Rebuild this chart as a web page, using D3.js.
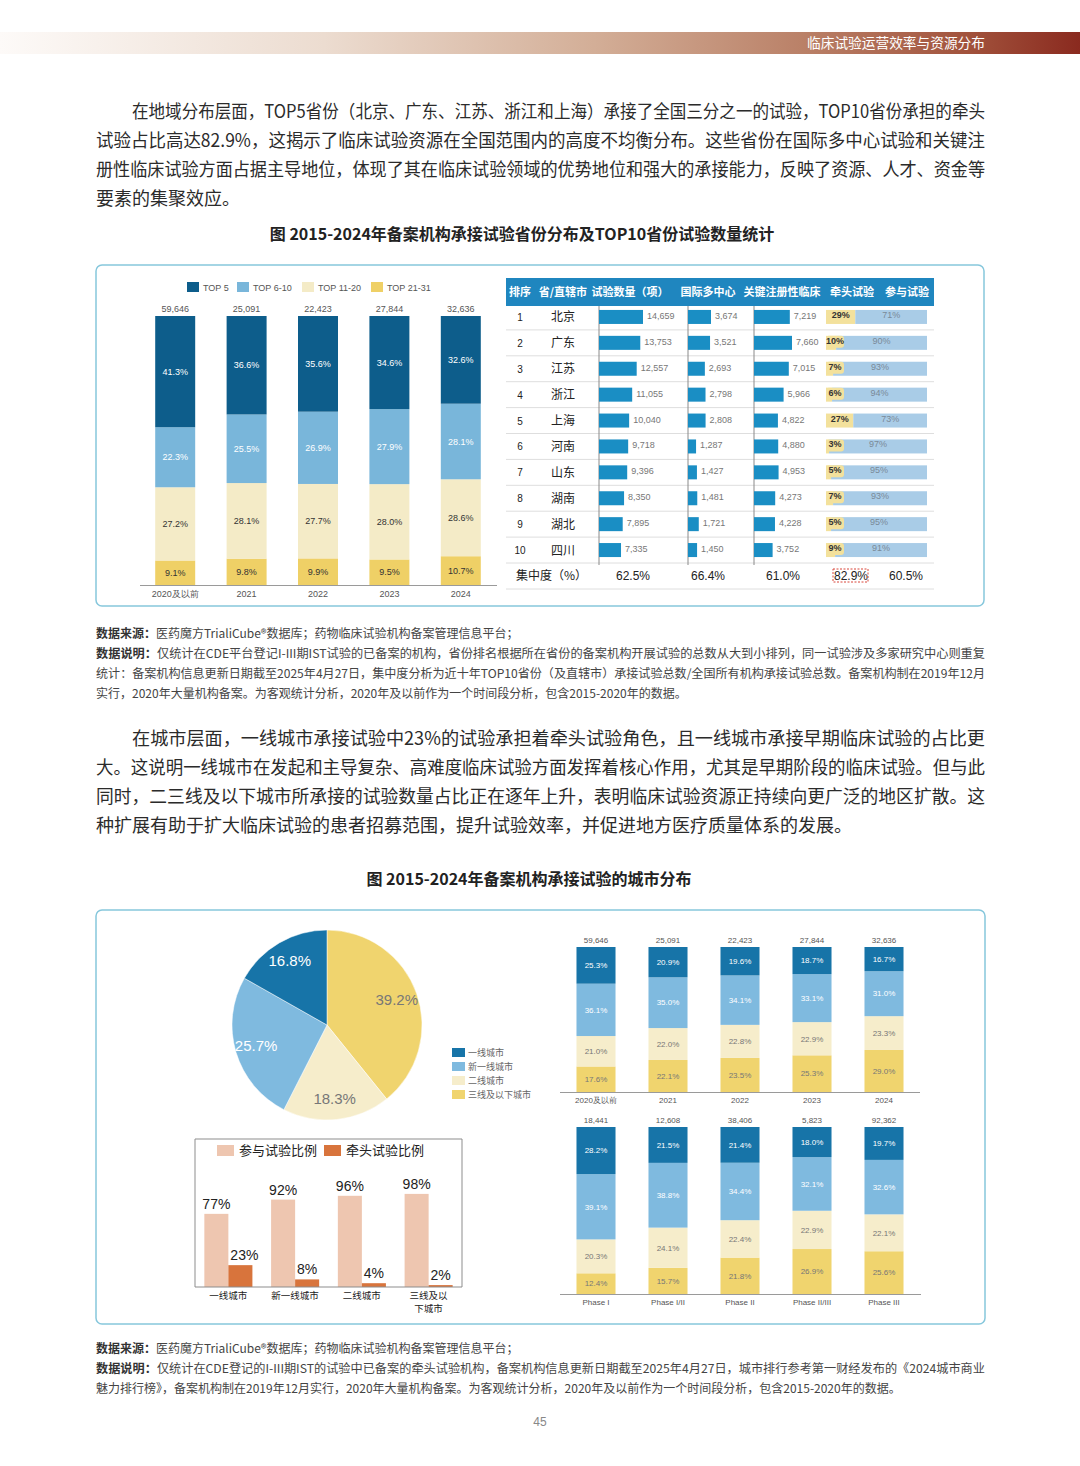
<!DOCTYPE html>
<html lang="zh">
<head>
<meta charset="UTF-8" />
<title>临床试验运营效率与资源分布</title>
<script src="https://d3js.org/d3.v7.min.js"></script>
<style>
  body { margin: 0; background: #fff; }
  svg { display: block; font-family: "Noto Sans CJK SC", "Noto Sans", sans-serif; }
  .num { font-family: "Liberation Sans", Arial, sans-serif; }
</style>
</head>
<body>
<svg width="1080" height="1466"></svg>
<script>
// ---------- data ----------
var years = ["2020及以前", "2021", "2022", "2023", "2024"];
var yearTotals = ["59,646", "25,091", "22,423", "27,844", "32,636"];

// province tiers (top -> bottom in bar)
var provKeys = ["TOP 5", "TOP 6-10", "TOP 11-20", "TOP 21-31"];
var provTop5 = [41.3, 36.6, 35.6, 34.6, 32.6];
var provTop6_10 = [22.3, 25.5, 26.9, 27.9, 28.1];
var provTop11_20 = [27.2, 28.1, 27.7, 28.0, 28.6];
var provTop21_31 = [9.1, 9.8, 9.9, 9.5, 10.7];

// top 10 table
var provinces = ["北京", "广东", "江苏", "浙江", "上海", "河南", "山东", "湖南", "湖北", "四川"];
var trialCount = [14659, 13753, 12557, 11055, 10040, 9718, 9396, 8350, 7895, 7335];
var intlCount = [3674, 3521, 2693, 2798, 2808, 1287, 1427, 1481, 1721, 1450];
var keyCount = [7219, 7660, 7015, 5966, 4822, 4880, 4953, 4273, 4228, 3752];
var leadPct = [29, 10, 7, 6, 27, 3, 5, 7, 5, 9];
var joinPct = [71, 90, 93, 94, 73, 97, 95, 93, 95, 91];
var concentration = ["62.5%", "66.4%", "61.0%", "82.9%", "60.5%"];
var tableHeads = ["排序", "省/直辖市", "试验数量（项）", "国际多中心", "关键注册性临床", "牵头试验", "参与试验"];

// city tiers
var cityKeys = ["一线城市", "新一线城市", "二线城市", "三线及以下城市"];
var cityPie = [16.8, 25.7, 18.3, 39.2];

var cityYear1 = [25.3, 20.9, 19.6, 18.7, 16.7];
var cityYear2 = [36.1, 35.0, 34.1, 33.1, 31.0];
var cityYear3 = [21.0, 22.0, 22.8, 22.9, 23.3];
var cityYear4 = [17.6, 22.1, 23.5, 25.3, 29.0];

var phases = ["Phase I", "Phase I/II", "Phase II", "Phase II/III", "Phase III"];
var phaseTotals = ["18,441", "12,608", "38,406", "5,823", "92,362"];
var cityPhase1 = [28.2, 21.5, 21.4, 18.0, 19.7];
var cityPhase2 = [39.1, 38.8, 34.4, 32.1, 32.6];
var cityPhase3 = [20.3, 24.1, 22.4, 22.9, 22.1];
var cityPhase4 = [12.4, 15.7, 21.8, 26.9, 25.6];

var roleKeys = ["参与试验比例", "牵头试验比例"];
var cityShort = ["一线城市", "新一线城市", "二线城市", "三线及以\n下城市"];
var joinByCity = [77, 92, 96, 98];
var leadByCity = [23, 8, 4, 2];

// ---------- text ----------
var para1 = [
  "在地域分布层面，TOP5省份（北京、广东、江苏、浙江和上海）承接了全国三分之一的试验，TOP10省份承担的牵头",
  "试验占比高达82.9%，这揭示了临床试验资源在全国范围内的高度不均衡分布。这些省份在国际多中心试验和关键注",
  "册性临床试验方面占据主导地位，体现了其在临床试验领域的优势地位和强大的承接能力，反映了资源、人才、资金等",
  "要素的集聚效应。"
];
var para2 = [
  "在城市层面，一线城市承接试验中23%的试验承担着牵头试验角色，且一线城市承接早期临床试验的占比更",
  "大。这说明一线城市在发起和主导复杂、高难度临床试验方面发挥着核心作用，尤其是早期阶段的临床试验。但与此",
  "同时，二三线及以下城市所承接的试验数量占比正在逐年上升，表明临床试验资源正持续向更广泛的地区扩散。这",
  "种扩展有助于扩大临床试验的患者招募范围，提升试验效率，并促进地方医疗质量体系的发展。"
];
var notes1 = [
  ["数据来源：", "医药魔方TrialiCube®数据库；药物临床试验机构备案管理信息平台；"],
  ["数据说明：", "仅统计在CDE平台登记I-III期IST试验的已备案的机构，省份排名根据所在省份的备案机构开展试验的总数从大到小排列，同一试验涉及多家研究中心则重复"],
  ["", "统计：备案机构信息更新日期截至2025年4月27日，集中度分析为近十年TOP10省份（及直辖市）承接试验总数/全国所有机构承接试验总数。备案机构制在2019年12月"],
  ["", "实行，2020年大量机构备案。为客观统计分析，2020年及以前作为一个时间段分析，包含2015-2020年的数据。"]
];
var notes2 = [
  ["数据来源：", "医药魔方TrialiCube®数据库；药物临床试验机构备案管理信息平台；"],
  ["数据说明：", "仅统计在CDE登记的I-III期IST的试验中已备案的牵头试验机构，备案机构信息更新日期截至2025年4月27日，城市排行参考第一财经发布的《2024城市商业"],
  ["", "魅力排行榜》，备案机构制在2019年12月实行，2020年大量机构备案。为客观统计分析，2020年及以前作为一个时间段分析，包含2015-2020年的数据。"]
];

var svg = d3.select("svg");
svg.append("rect").attr("width", 1080).attr("height", 1466).attr("fill", "#fff");

// ---------- header band ----------
var defs = svg.append("defs");
var grad = defs.append("linearGradient").attr("id", "hdr");
[["0%", "#fdfaf8"], ["30%", "#ecdcd0"], ["55%", "#d3ae97"], ["75%", "#b97f66"], ["90%", "#a1513b"], ["100%", "#8a2a1f"]]
  .forEach(function (s) { grad.append("stop").attr("offset", s[0]).attr("stop-color", s[1]); });
svg.append("rect").attr("x", 0).attr("y", 32).attr("width", 1080).attr("height", 22).attr("fill", "url(#hdr)");
svg.append("text").attr("x", 985).attr("y", 48).attr("text-anchor", "end")
  .attr("font-size", 13.7).attr("fill", "#fff").text("临床试验运营效率与资源分布");

// ---------- paragraphs ----------
function paragraph(lines, y0) {
  lines.forEach(function (t, i) {
    var indent = i === 0 ? 36 : 0;
    var last = i === lines.length - 1;
    var tx = svg.append("text").attr("x", 96 + indent).attr("y", y0 + i * 29)
      .attr("font-size", 18).attr("fill", "#2b2b2b").text(t);
    if (!last) tx.attr("textLength", 889 - indent).attr("lengthAdjust", "spacingAndGlyphs");
  });
}
paragraph(para1, 118);
paragraph(para2, 745);

function notes(lines, y0) {
  lines.forEach(function (l, i) {
    var tx = svg.append("text").attr("x", 96).attr("y", y0 + i * 20)
      .attr("font-size", 12).attr("fill", "#444");
    tx.append("tspan").attr("font-weight", "bold").attr("fill", "#333").text(l[0]);
    tx.append("tspan").text(l[1]);
    if (i > 0 && i < lines.length - 1) tx.attr("textLength", 889).attr("lengthAdjust", "spacingAndGlyphs");
  });
}
notes(notes1, 638);
notes(notes2, 1353);

svg.append("text").attr("x", 522).attr("y", 240).attr("text-anchor", "middle")
  .attr("font-size", 16).attr("font-weight", "bold").attr("fill", "#222")
  .text("图 2015-2024年备案机构承接试验省份分布及TOP10省份试验数量统计");
svg.append("text").attr("x", 529).attr("y", 885).attr("text-anchor", "middle")
  .attr("font-size", 16).attr("font-weight", "bold").attr("fill", "#222")
  .text("图  2015-2024年备案机构承接试验的城市分布");

svg.append("text").attr("class", "num").attr("x", 540).attr("y", 1426).attr("text-anchor", "middle")
  .attr("font-size", 12).attr("fill", "#888").text("45");

// frames
svg.append("rect").attr("x", 96).attr("y", 265).attr("width", 888).attr("height", 341).attr("rx", 6)
  .attr("fill", "none").attr("stroke", "#86c7dc").attr("stroke-width", 1.5);
svg.append("rect").attr("x", 96).attr("y", 910).attr("width", 889).attr("height", 414).attr("rx", 6)
  .attr("fill", "none").attr("stroke", "#86c7dc").attr("stroke-width", 1.5);

// ---------- stacked 100% bars ----------
function stackedChart(cfg) {
  var rows = cfg.cats.map(function (c, i) {
    var r = { cat: c };
    cfg.keys.forEach(function (k, j) { r[k] = cfg.series[j][i]; });
    return r;
  });
  var stack = d3.stack().keys(cfg.keys.slice().reverse()).offset(d3.stackOffsetExpand);
  var layers = stack(rows);
  var x = d3.scaleBand().domain(cfg.cats).range(cfg.xRange)
    .paddingInner(cfg.padIn).paddingOuter(cfg.padIn / 2);
  var y = d3.scaleLinear().domain([0, 1]).range([cfg.base, cfg.top]);
  var g = svg.append("g");
  var color = d3.scaleOrdinal().domain(cfg.keys).range(cfg.colors);

  var lg = g.selectAll("g.layer").data(layers).enter().append("g").attr("fill", function (d) { return color(d.key); });
  lg.selectAll("rect").data(function (d) { return d; }).enter().append("rect")
    .attr("x", function (d) { return x(d.data.cat); })
    .attr("width", x.bandwidth())
    .attr("y", function (d) { return y(d[1]); })
    .attr("height", function (d) { return y(d[0]) - y(d[1]); });
  lg.each(function (layer) {
    var ki = cfg.keys.indexOf(layer.key);
    d3.select(this).selectAll("text").data(layer).enter().append("text")
      .attr("class", "num")
      .attr("x", function (d) { return x(d.data.cat) + x.bandwidth() / 2; })
      .attr("y", function (d) { return (y(d[0]) + y(d[1])) / 2 + cfg.fs * 0.35; })
      .attr("text-anchor", "middle").attr("font-size", cfg.fs)
      .attr("fill", ki < 2 ? "#fff" : cfg.darkLabel)
      .text(function (d) { return d.data[layer.key].toFixed(1) + "%"; });
  });
  g.append("line").attr("x1", cfg.axisX[0]).attr("x2", cfg.axisX[1])
    .attr("y1", cfg.base + 0.5).attr("y2", cfg.base + 0.5).attr("stroke", "#9a9a9a").attr("stroke-width", 1);
  g.selectAll("text.tot").data(cfg.cats).enter().append("text").attr("class", "num tot")
    .attr("x", function (d) { return x(d) + x.bandwidth() / 2; })
    .attr("y", cfg.top - 4).attr("text-anchor", "middle").attr("font-size", cfg.fs).attr("fill", "#555")
    .text(function (d, i) { return cfg.totals[i]; });
  g.selectAll("text.cat").data(cfg.cats).enter().append("text").attr("class", "num cat")
    .attr("x", function (d) { return x(d) + x.bandwidth() / 2; })
    .attr("y", cfg.base + cfg.fs + 3).attr("text-anchor", "middle").attr("font-size", cfg.fs).attr("fill", "#555")
    .text(function (d) { return d; });
}

var provColors = ["#0d5d8b", "#79b6da", "#f4ebc7", "#efd066"];
stackedChart({
  cats: years, keys: provKeys, series: [provTop5, provTop6_10, provTop11_20, provTop21_31],
  totals: yearTotals, colors: provColors, xRange: [139.5, 496.5], padIn: 0.44,
  base: 585, top: 316, axisX: [140, 497], fs: 9, darkLabel: "#333"
});

// legend chart 1
var lx = [187, 237, 302, 371];
provKeys.forEach(function (k, i) {
  svg.append("rect").attr("x", lx[i]).attr("y", 282).attr("width", 12).attr("height", 10).attr("fill", provColors[i]);
  svg.append("text").attr("class", "num").attr("x", lx[i] + 16).attr("y", 290.5)
    .attr("font-size", 9).attr("fill", "#555").text(k);
});

var cityColors = ["#1774a8", "#7fbadf", "#f6edcb", "#f0d46e"];
stackedChart({
  cats: years, keys: cityKeys, series: [cityYear1, cityYear2, cityYear3, cityYear4],
  totals: yearTotals, colors: cityColors, xRange: [560, 920], padIn: 0.458,
  base: 1092, top: 947, axisX: [560, 920], fs: 8, darkLabel: "#777"
});
stackedChart({
  cats: phases, keys: cityKeys, series: [cityPhase1, cityPhase2, cityPhase3, cityPhase4],
  totals: phaseTotals, colors: cityColors, xRange: [560, 920], padIn: 0.458,
  base: 1294, top: 1127, axisX: [560, 921], fs: 8, darkLabel: "#777"
});

// ---------- table ----------
var tg = svg.append("g");
tg.append("rect").attr("x", 506).attr("y", 278).attr("width", 428).attr("height", 28).attr("fill", "#1f86bf");
var headX = [520, 563, 630, 708, 782, 852, 907];
tableHeads.forEach(function (h, i) {
  tg.append("text").attr("x", headX[i]).attr("y", 296).attr("text-anchor", "middle")
    .attr("font-size", 11).attr("font-weight", "bold").attr("fill", "#fff").text(h);
});
var rowY = d3.scaleBand().domain(provinces).range([304, 563]);
var rh = rowY.bandwidth();
provinces.forEach(function (p, i) {
  tg.append("line").attr("x1", 506).attr("x2", 934)
    .attr("y1", rowY(p) + rh).attr("y2", rowY(p) + rh).attr("stroke", "#dedede");
});
tg.append("line").attr("x1", 506).attr("x2", 934).attr("y1", 589).attr("y2", 589).attr("stroke", "#dedede");
[599, 688, 754].forEach(function (vx) {
  tg.append("line").attr("x1", vx).attr("x2", vx).attr("y1", 306).attr("y2", 565).attr("stroke", "#8a8a8a");
});
tg.selectAll("text.rank").data(provinces).enter().append("text").attr("class", "num")
  .attr("x", 520).attr("y", function (d) { return rowY(d) + rh / 2 + 4; })
  .attr("text-anchor", "middle").attr("font-size", 10).attr("fill", "#222")
  .text(function (d, i) { return i + 1; });
tg.selectAll("text.prov").data(provinces).enter().append("text")
  .attr("x", 563).attr("y", function (d) { return rowY(d) + rh / 2 + 4.5; })
  .attr("text-anchor", "middle").attr("font-size", 12).attr("fill", "#222")
  .text(function (d) { return d; });

function barCol(vals, x0, maxW) {
  var s = d3.scaleLinear().domain([0, d3.max(vals)]).range([0, maxW]);
  var cg = tg.append("g");
  cg.selectAll("rect").data(vals).enter().append("rect")
    .attr("x", x0).attr("y", function (d, i) { return rowY(provinces[i]) + rh / 2 - 7; })
    .attr("width", function (d) { return s(d); }).attr("height", 14).attr("fill", "#1a8ec4");
  cg.selectAll("text").data(vals).enter().append("text").attr("class", "num")
    .attr("x", function (d) { return x0 + s(d) + 4; })
    .attr("y", function (d, i) { return rowY(provinces[i]) + rh / 2 + 2; })
    .attr("font-size", 9).attr("fill", "#777").text(function (d) { return d3.format(",")(d); });
}
barCol(trialCount, 599, 44);
barCol(intlCount, 688, 23);
barCol(keyCount, 754, 38);

var px = d3.scaleLinear().domain([0, 100]).range([826, 927]);
provinces.forEach(function (p, i) {
  var cy = rowY(p) + rh / 2;
  tg.append("rect").attr("x", px(0)).attr("y", cy - 7).attr("width", px(leadPct[i]) - px(0)).attr("height", 14).attr("fill", "#f3e19c");
  tg.append("rect").attr("x", px(leadPct[i])).attr("y", cy - 7).attr("width", px(100) - px(leadPct[i])).attr("height", 14).attr("fill", "#a9cce7");
  var lc = Math.max((px(0) + px(leadPct[i])) / 2, 835);
  if (px(leadPct[i]) - px(0) < 20) {
    tg.append("rect").attr("x", lc - 9).attr("y", cy - 7).attr("width", 18).attr("height", 12).attr("rx", 3).attr("fill", "#f3e19c");
  }
  tg.append("text").attr("class", "num").attr("x", lc).attr("y", cy + 1)
    .attr("text-anchor", "middle").attr("font-size", 9).attr("font-weight", "bold").attr("fill", "#333")
    .text(leadPct[i] + "%");
  tg.append("text").attr("class", "num").attr("x", (px(leadPct[i]) + px(100)) / 2).attr("y", cy + 1)
    .attr("text-anchor", "middle").attr("font-size", 9).attr("fill", "#7a8a98")
    .text(joinPct[i] + "%");
});
tg.append("text").attr("x", 516).attr("y", 580).attr("font-size", 12).attr("fill", "#222").text("集中度（%）");
var concX = [633, 708, 783, 851, 906];
concentration.forEach(function (c, i) {
  tg.append("text").attr("class", "num").attr("x", concX[i]).attr("y", 580).attr("text-anchor", "middle")
    .attr("font-size", 12).attr("fill", "#222").text(c);
});
tg.append("rect").attr("x", 833).attr("y", 569).attr("width", 35).attr("height", 13)
  .attr("fill", "none").attr("stroke", "#d9463b").attr("stroke-dasharray", "2,1.5").attr("stroke-width", 1);

// ---------- pie ----------
var pieData = cityKeys.map(function (k, i) { return { key: k, v: cityPie[i], c: cityColors[i] }; });
var pieOrder = [pieData[3], pieData[2], pieData[1], pieData[0]];
var pie = d3.pie().sort(null).value(function (d) { return d.v; });
var arc = d3.arc().innerRadius(0).outerRadius(95);
var labelArc = d3.arc().innerRadius(74).outerRadius(74);
var pg = svg.append("g").attr("transform", "translate(327,1025)");
pg.selectAll("path").data(pie(pieOrder)).enter().append("path")
  .attr("d", arc).attr("fill", function (d) { return d.data.c; }).attr("stroke", "#fff").attr("stroke-width", 0.5);
pg.selectAll("text").data(pie(pieOrder)).enter().append("text").attr("class", "num")
  .attr("transform", function (d) { var c = labelArc.centroid(d); return "translate(" + c[0] + "," + (c[1] + 5) + ")"; })
  .attr("text-anchor", "middle").attr("font-size", 15)
  .attr("fill", function (d) { return cityKeys.indexOf(d.data.key) < 2 ? "#fff" : "#777"; })
  .text(function (d) { return d.data.v.toFixed(1) + "%"; });
cityKeys.forEach(function (k, i) {
  svg.append("rect").attr("x", 452).attr("y", 1048 + i * 14).attr("width", 13).attr("height", 9).attr("fill", cityColors[i]);
  svg.append("text").attr("x", 468).attr("y", 1056 + i * 14).attr("font-size", 9).attr("fill", "#666").text(k);
});

// ---------- lead / participate grouped bars ----------
var bg = svg.append("g");
bg.append("path").attr("d", "M195,1287V1139H462V1287").attr("fill", "none").attr("stroke", "#8d8d8d");
var gx = d3.scaleBand().domain(cityShort).range([195, 462]).paddingInner(0.28).paddingOuter(0.14);
var sx = d3.scaleBand().domain(roleKeys).range([0, gx.bandwidth()]);
var gy = d3.scaleLinear().domain([0, 100]).range([1287, 1192]);
var roleColors = ["#eec6b0", "#d8743c"];
var roleVals = [joinByCity, leadByCity];
roleKeys.forEach(function (k, j) {
  bg.selectAll("rect.r" + j).data(roleVals[j]).enter().append("rect")
    .attr("x", function (d, i) { return gx(cityShort[i]) + sx(k); })
    .attr("y", function (d) { return gy(d); })
    .attr("width", sx.bandwidth()).attr("height", function (d) { return gy(0) - gy(d); })
    .attr("fill", roleColors[j]);
  bg.selectAll("text.r" + j).data(roleVals[j]).enter().append("text").attr("class", "num")
    .attr("x", function (d, i) { return gx(cityShort[i]) + sx(k) + sx.bandwidth() / 2 + (j && i === 0 ? 4 : 0); })
    .attr("y", function (d) { return gy(d) - 5; })
    .attr("text-anchor", "middle").attr("font-size", 14).attr("fill", "#222")
    .text(function (d) { return d + "%"; });
});
bg.append("line").attr("x1", 195).attr("x2", 462).attr("y1", 1287).attr("y2", 1287).attr("stroke", "#8d8d8d");
cityShort.forEach(function (c) {
  c.split("\n").forEach(function (s, k) {
    bg.append("text").attr("x", gx(c) + gx.bandwidth() / 2).attr("y", 1299 + k * 13)
      .attr("text-anchor", "middle").attr("font-size", 9.5).attr("fill", "#222").text(s);
  });
});
var lgx = [217, 324];
roleKeys.forEach(function (k, j) {
  bg.append("rect").attr("x", lgx[j]).attr("y", 1145).attr("width", 17).attr("height", 11).attr("fill", roleColors[j]);
  bg.append("text").attr("x", lgx[j] + 22).attr("y", 1155).attr("font-size", 13).attr("fill", "#222").text(k);
});
</script>
</body>
</html>
